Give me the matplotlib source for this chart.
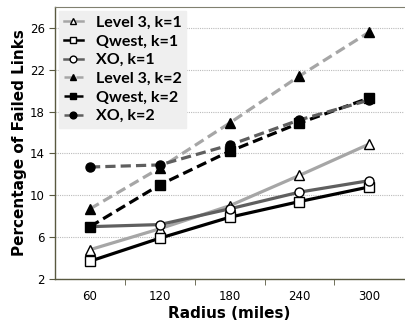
import matplotlib
matplotlib.use("Agg")
import matplotlib.pyplot as plt
import numpy as np

radius = ["60", "120", "180", "240", "300"]
level3_k1 = [4.8, 6.8, 9.0, 11.9, 14.9]
qwest_k1 = [3.7, 5.9, 7.9, 9.4, 10.8]
xo_k1 = [7.0, 7.2, 8.7, 10.3, 11.4]
level3_k2 = [8.7, 12.6, 16.9, 21.4, 25.6]
qwest_k2 = [7.0, 11.0, 14.2, 16.9, 19.3]
xo_k2 = [12.7, 12.9, 14.8, 17.2, 19.1]
yticks = [2, 6, 10, 14, 18, 22, 26]

fig = plt.figure(figsize=(4.05, 3.29), dpi=100)
ax = fig.add_axes([0.136, 0.152, 0.862, 0.827])
x = np.arange(len(radius))

light = "#A6A6A6"
dark = "#5F5F5F"
black = "#000000"
lw = 2.3
ms = 6.5
dash = (0, (3.2, 1.6))

series = [
    ("Level 3, k=1", level3_k1, light, "-", "^", "white"),
    ("Qwest, k=1", qwest_k1, black, "-", "s", "white"),
    ("XO, k=1", xo_k1, dark, "-", "o", "white"),
    ("Level 3, k=2", level3_k2, light, dash, "^", "black"),
    ("Qwest, k=2", qwest_k2, black, dash, "s", "black"),
    ("XO, k=2", xo_k2, dark, dash, "o", "black"),
]
for label, vals, col, ls, mk, mfc in series:
    ax.plot(x, vals, color=col, linestyle=ls, linewidth=lw, marker=mk,
            markersize=ms, markerfacecolor=mfc, markeredgecolor="black",
            markeredgewidth=1.0, label=label)

ax.set_xlim(-0.5, 4.5)
ax.set_ylim(2, 28)
ax.set_yticks(yticks)
ax.set_xticks(x)
ax.set_xticklabels(radius)
ax.set_xticks(np.arange(0.5, 4.5, 1.0), minor=True)
ax.tick_params(axis="x", which="major", length=0, labelsize=8.5, pad=8)
ax.tick_params(axis="x", which="minor", length=4, direction="out", color="#595940")
ax.tick_params(axis="y", length=4, direction="out", labelsize=8.5, color="#595940")
ax.yaxis.grid(True, linestyle=(0, (1, 1)), color="#BBBBBB", linewidth=0.8)
ax.set_axisbelow(True)

for s in ["left", "bottom"]:
    ax.spines[s].set_color("#595940")
    ax.spines[s].set_linewidth(1.0)
ax.spines["top"].set_color("#808070")
ax.spines["right"].set_visible(False)

ax.set_xlabel("Radius (miles)", fontsize=11, fontweight="bold", labelpad=2)
ax.set_ylabel("Percentage of Failed Links", fontsize=11, fontweight="bold", labelpad=2)

leg = ax.legend(loc="upper left", bbox_to_anchor=(0.0, 1.0), frameon=True,
                fancybox=False, handlelength=1.2, handletextpad=0.8,
                labelspacing=0.28, borderpad=0.3, borderaxespad=0.25,
                prop={"family": "Lato", "weight": "bold", "size": 11.5},
                markerscale=0.75)
leg.get_frame().set_facecolor("#EFEFEF")
leg.get_frame().set_edgecolor("#EFEFEF")
leg.get_frame().set_alpha(1.0)
for h in leg.get_lines():
    h.set_linewidth(1.8)

fig.savefig("out.png", dpi=100)
